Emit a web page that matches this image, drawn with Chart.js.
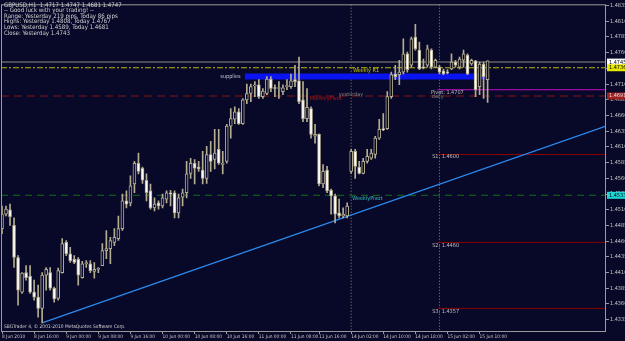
<!DOCTYPE html>
<html>
<head>
<meta charset="utf-8">
<script src="https://cdn.jsdelivr.net/npm/chart.js@4.4.0/dist/chart.umd.min.js"></script>
<style>
html, body { margin: 0; padding: 0; background: #080828; }
#wrap { width: 625px; height: 341px; position: relative; }
</style>
</head>
<body>
<div id="wrap"><canvas id="chart"></canvas></div>
<script>
// GBPUSD H1 bars, left to right
var openP = [
1.4480,1.4503,1.4510,1.4485,1.4434,1.4379,1.4410,1.4404,1.4379,1.4371,
1.4353,1.4406,1.4410,1.4385,1.4369,1.4410,1.4458,1.4440,1.4431,1.4431,
1.4402,1.4424,1.4424,1.4412,1.4415,1.4421,1.4445,1.4448,1.4458,1.4464,
1.4480,1.4524,1.4521,1.4551,1.4584,1.4576,1.4557,1.4540,1.4513,1.4521,
1.4516,1.4527,1.4537,1.4537,1.4505,1.4530,1.4537,1.4568,1.4584,1.4578,
1.4573,1.4560,1.4598,1.4590,1.4606,1.4582,1.4587,1.4643,1.4654,1.4666,
1.4647,1.4685,1.4695,1.4707,1.4709,1.4690,1.4695,1.4718,1.4704,1.4703,
1.4698,1.4706,1.4706,1.4717,1.4715,1.4685,1.4655,1.4671,1.4627,1.4630,
1.4551,1.4573,1.4541,1.4532,1.4505,1.4500,1.4500,1.4571,1.4603,1.4578,
1.4568,1.4587,1.4592,1.4598,1.4624,1.4639,1.4639,1.4690,1.4726,1.4725,
1.4729,1.4758,1.4740,1.4785,1.4764,1.4737,1.4740,1.4764,1.4737,1.4737,
1.4731,1.4729,1.4734,1.4745,1.4737,1.4748,1.4756,1.4742,1.4747,1.4706,
1.4742,1.4717
];
var highP = [
1.4516,1.4516,1.4519,1.4497,1.4437,1.4410,1.4421,1.4421,1.4398,1.4390,
1.4410,1.4418,1.4418,1.4387,1.4417,1.4464,1.4461,1.4450,1.4437,1.4434,
1.4428,1.4429,1.4429,1.4426,1.4418,1.4456,1.4477,1.4466,1.4480,1.4500,
1.4535,1.4540,1.4564,1.4587,1.4600,1.4578,1.4567,1.4551,1.4529,1.4524,
1.4535,1.4540,1.4541,1.4540,1.4535,1.4543,1.4587,1.4592,1.4590,1.4587,
1.4603,1.4611,1.4619,1.4638,1.4638,1.4603,1.4646,1.4671,1.4674,1.4671,
1.4687,1.4710,1.4710,1.4714,1.4717,1.4703,1.4722,1.4722,1.4709,1.4714,
1.4709,1.4717,1.4726,1.4740,1.4753,1.4714,1.4703,1.4674,1.4646,1.4631,
1.4582,1.4579,1.4543,1.4535,1.4527,1.4513,1.4521,1.4606,1.4606,1.4587,
1.4592,1.4606,1.4606,1.4627,1.4654,1.4663,1.4698,1.4729,1.4740,1.4748,
1.4782,1.4761,1.4785,1.4805,1.4777,1.4750,1.4772,1.4766,1.4750,1.4740,
1.4734,1.4733,1.4758,1.4748,1.4753,1.4764,1.4758,1.4750,1.4748,1.4745,
1.4745,1.4747
];
var lowP = [
1.4472,1.4500,1.4485,1.4418,1.4358,1.4377,1.4398,1.4377,1.4366,1.4339,
1.4330,1.4382,1.4382,1.4363,1.4366,1.4409,1.4437,1.4426,1.4424,1.4390,
1.4401,1.4418,1.4410,1.4401,1.4410,1.4421,1.4432,1.4424,1.4453,1.4461,
1.4477,1.4513,1.4516,1.4537,1.4567,1.4552,1.4524,1.4511,1.4508,1.4511,
1.4513,1.4521,1.4516,1.4497,1.4497,1.4516,1.4529,1.4560,1.4551,1.4571,
1.4551,1.4552,1.4571,1.4575,1.4582,1.4567,1.4584,1.4624,1.4647,1.4646,
1.4646,1.4679,1.4682,1.4690,1.4687,1.4687,1.4693,1.4698,1.4690,1.4687,
1.4693,1.4701,1.4703,1.4706,1.4679,1.4650,1.4650,1.4624,1.4616,1.4548,
1.4545,1.4537,1.4503,1.4489,1.4497,1.4497,1.4497,1.4568,1.4560,1.4567,
1.4567,1.4584,1.4590,1.4592,1.4622,1.4636,1.4638,1.4687,1.4717,1.4709,
1.4726,1.4729,1.4737,1.4764,1.4733,1.4734,1.4737,1.4734,1.4736,1.4726,
1.4725,1.4726,1.4733,1.4737,1.4734,1.4737,1.4725,1.4740,1.4690,1.4693,
1.4687,1.4681
];
var closeP = [
1.4503,1.4511,1.4499,1.4434,1.4382,1.4409,1.4402,1.4379,1.4371,1.4353,
1.4406,1.4415,1.4385,1.4368,1.4413,1.4456,1.4440,1.4429,1.4426,1.4406,
1.4424,1.4426,1.4413,1.4415,1.4417,1.4445,1.4448,1.4461,1.4466,1.4480,
1.4524,1.4519,1.4548,1.4584,1.4571,1.4557,1.4537,1.4513,1.4519,1.4516,
1.4529,1.4537,1.4535,1.4505,1.4529,1.4537,1.4567,1.4584,1.4576,1.4575,
1.4560,1.4598,1.4587,1.4600,1.4584,1.4584,1.4643,1.4655,1.4666,1.4647,
1.4685,1.4695,1.4706,1.4709,1.4690,1.4699,1.4718,1.4703,1.4703,1.4704,
1.4704,1.4707,1.4715,1.4714,1.4682,1.4655,1.4673,1.4630,1.4630,1.4551,
1.4571,1.4540,1.4532,1.4503,1.4500,1.4503,1.4516,1.4603,1.4579,1.4568,
1.4587,1.4595,1.4600,1.4624,1.4638,1.4637,1.4690,1.4725,1.4722,1.4729,
1.4758,1.4733,1.4782,1.4766,1.4734,1.4736,1.4766,1.4737,1.4748,1.4729,
1.4726,1.4728,1.4745,1.4740,1.4750,1.4758,1.4726,1.4748,1.4701,1.4742,
1.4722,1.4747
];

// time axis labels (bar index -> text)
var timeIdx = [0, 8, 16, 24, 32, 40, 48, 56, 64, 72, 79, 87, 95, 103, 111, 119];
var timeLabels = ['8 Jun 2010', '8 Jun 16:00', '9 Jun 00:00', '9 Jun 08:00', '9 Jun 16:00',
    '10 Jun 00:00', '10 Jun 08:00', '10 Jun 16:00', '11 Jun 00:00', '11 Jun 08:00',
    '11 Jun 16:00', '14 Jun 02:00', '14 Jun 10:00', '14 Jun 18:00', '15 Jun 02:00', '15 Jun 10:00'];

// price axis labels
var priceTicks = [1.4335, 1.4360, 1.4385, 1.4410, 1.4435, 1.4460, 1.4485, 1.4510, 1.4535, 1.4560,
    1.4585, 1.4610, 1.4635, 1.4660, 1.4685, 1.4710, 1.4735, 1.4760, 1.4785, 1.4810, 1.4835];

// horizontal levels: name, price, first bar
var levelNames = ['Bid', 'Weekly R1', 'MonthlyPivot', 'WeeklyPivot', 'Pivot', 'S1', 'S2', 'S3'];
var levelValues = [1.4745, 1.4736, 1.4691, 1.4533, 1.4701, 1.4598, 1.4458, 1.4353];
var levelStart = [-0.25, -0.25, -0.25, -0.25, 108.5, 108.5, 108.5, 108.5];

// trend line (bar index, price) and supply zone
var trendBars = [10, 150.5];
var trendPrices = [1.4330, 1.4643];
var supplyBars = [60.5, 121.5];
var supplyPrice = [1.4722];

// day separators
var sepBars = [87, 109];

var BG = '#080828';
var CANDLE = '#b4ad90';
var AXIS_TXT = '#c8c8c8';
var FONT = '"Liberation Sans Narrow", "DejaVu Sans Condensed", Arial, sans-serif';

var levelStyle = {
    'Bid': { color: '#4c4c58', width: 2, dash: [] },
    'Weekly R1': { color: '#b8b800', width: 1, dash: [6, 2, 2, 2] },
    'MonthlyPivot': { color: '#8a1414', width: 1, dash: [8, 5] },
    'WeeklyPivot': { color: '#127012', width: 1, dash: [7, 5] },
    'Pivot': { color: '#c010c0', width: 1, dash: [] },
    'S1': { color: '#8a0000', width: 1, dash: [] },
    'S2': { color: '#8a0000', width: 1, dash: [] },
    'S3': { color: '#8a0000', width: 1, dash: [] }
};

var notes = [
    { t: 'supplies', x: 54.4, y: 1.4722, c: '#b8c4d0' },
    { t: 'Weekly R1', x: 87.5, y: 1.4731, c: '#c8c800' },
    { t: 'MonthlyPivot', x: 76.7, y: 1.4687, c: '#b01818' },
    { t: 'yesterday', x: 83.9, y: 1.4693, c: '#7c7c7c' },
    { t: 'Pivot: 1.4707', x: 106.9, y: 1.4696, c: '#b8b8b8' },
    { t: 'daily', x: 107.1, y: 1.4690, c: '#7c7c7c' },
    { t: 'WeeklyPivot', x: 87.3, y: 1.4527, c: '#30c0c0' },
    { t: 'S1: 1.4600', x: 107.2, y: 1.4594, c: '#c0c0c0' },
    { t: 'S2: 1.4460', x: 107.2, y: 1.4453, c: '#c0c0c0' },
    { t: 'S3: 1.4357', x: 107.2, y: 1.4348, c: '#c0c0c0' }
];

var axisMarks = [
    { v: 1.4745, bg: '#ffffff', fg: '#000000' },
    { v: 1.4736, bg: '#e8e800', fg: '#000000' },
    { v: 1.4691, bg: '#a02020', fg: '#e0e0e0' },
    { v: 1.4533, bg: '#20d8d8', fg: '#000000' }
];

var headerLines = [
    'GBPUSD,H1  1.4717 1.4747 1.4681 1.4747',
    '-- Good luck with your trading! --',
    'Range: Yesterday 219 pips, Today 86 pips',
    'Highs: Yesterday 1.4808, Today 1.4767',
    'Lows: Yesterday 1.4589, Today 1.4681',
    'Close: Yesterday 1.4743'
];

function buildDatasets() {
    var sets = [];
    sets.push({
        type: 'bar',
        label: 'body',
        data: openP.map(function (o, i) { return { x: i, y: [o, closeP[i]] }; }),
        backgroundColor: function (ctx) {
            var i = ctx.dataIndex;
            return closeP[i] >= openP[i] ? BG : '#ffffff';
        },
        borderColor: CANDLE,
        borderWidth: 1,
        borderSkipped: false,
        barThickness: 3,
        minBarLength: 1,
        grouped: false,
        order: 0
    });
    sets.push({
        type: 'bar',
        label: 'wick',
        data: lowP.map(function (l, i) { return { x: i, y: [l, highP[i]] }; }),
        backgroundColor: CANDLE,
        borderWidth: 0,
        barThickness: 1,
        grouped: false,
        order: 1
    });
    sets.push({
        type: 'line',
        label: 'supplies',
        data: [{ x: supplyBars[0], y: supplyPrice[0] }, { x: supplyBars[1], y: supplyPrice[0] }],
        borderColor: '#0a14f0',
        borderWidth: 6,
        borderCapStyle: 'butt',
        pointRadius: 0,
        order: 3
    });
    sets.push({
        type: 'line',
        label: 'trend',
        data: [{ x: trendBars[0], y: trendPrices[0] }, { x: trendBars[1], y: trendPrices[1] }],
        borderColor: '#2a8cf0',
        borderWidth: 1.2,
        pointRadius: 0,
        order: 2
    });
    levelNames.forEach(function (n, i) {
        var st = levelStyle[n];
        sets.push({
            type: 'line',
            label: n,
            data: [{ x: levelStart[i], y: levelValues[i] }, { x: 150.5, y: levelValues[i] }],
            borderColor: st.color,
            borderWidth: st.width,
            borderDash: st.dash,
            pointRadius: 0,
            order: 5
        });
    });
    sepBars.forEach(function (b) {
        sets.push({
            type: 'line',
            label: 'sep',
            data: [{ x: b, y: 1.4300 }, { x: b, y: 1.4850 }],
            borderColor: '#8c8c74',
            borderWidth: 1,
            borderDash: [1, 2],
            pointRadius: 0,
            order: 6
        });
    });
    return sets;
}

var decor = {
    id: 'decor',
    beforeDraw: function (chart) {
        var c = chart.ctx;
        c.save();
        c.fillStyle = BG;
        c.fillRect(0, 0, chart.width, chart.height);
        c.restore();
    },
    afterDatasetsDraw: function (chart) {
        var c = chart.ctx, xs = chart.scales.x, ys = chart.scales.y;
        c.save();
        c.font = '5.5px ' + FONT;
        c.textBaseline = 'middle';
        c.textAlign = 'left';
        notes.forEach(function (n) {
            c.fillStyle = n.c;
            c.fillText(n.t, xs.getPixelForValue(n.x), ys.getPixelForValue(n.y));
        });
        c.restore();
    },
    afterDraw: function (chart) {
        var c = chart.ctx, a = chart.chartArea, ys = chart.scales.y;
        c.save();
        c.strokeStyle = '#9a9a9a';
        c.lineWidth = 1;
        c.strokeRect(a.left + 0.5, a.top + 0.5, a.right - a.left - 1, a.bottom - a.top);
        c.font = '5.5px ' + FONT;
        c.textBaseline = 'middle';
        axisMarks.forEach(function (m) {
            var y = ys.getPixelForValue(m.v);
            c.fillStyle = m.bg;
            c.fillRect(a.right + 1, y - 3.5, 18, 7);
            c.fillStyle = m.fg;
            c.fillText(m.v.toFixed(4), a.right + 3, y);
        });
        c.fillStyle = '#d0d0d0';
        c.font = '6.1px ' + FONT;
        headerLines.forEach(function (t, i) {
            c.fillText(t, 4, 5 + i * 5.6);
        });
        c.font = '4.9px ' + FONT;
        c.fillText('SBGTrader 4, \u00a9 2001-2010 MetaQuotes Software Corp.', 4, 327);
        c.restore();
    }
};

var chart = new Chart(document.getElementById('chart'), {
    type: 'bar',
    data: { datasets: buildDatasets() },
    options: {
        responsive: true,
        maintainAspectRatio: false,
        animation: false,
        devicePixelRatio: 1,
        events: [],
        layout: { padding: { left: 1, top: 2, right: 0, bottom: 0 } },
        plugins: { legend: { display: false }, tooltip: { enabled: false } },
        scales: {
            x: {
                type: 'linear',
                position: 'bottom',
                min: -0.25,
                max: 150.5,
                offset: false,
                afterBuildTicks: function (s) {
                    s.ticks = timeIdx.map(function (v) { return { value: v }; });
                },
                afterFit: function (s) { s.height = 10; },
                ticks: {
                    callback: function (v, i) { return timeLabels[i]; },
                    align: 'start',
                    autoSkip: false,
                    maxRotation: 0,
                    padding: 0,
                    color: AXIS_TXT,
                    font: { size: 4.8, family: FONT }
                },
                grid: { offset: false, drawOnChartArea: false, tickLength: 3, color: '#9a9a9a' },
                border: { display: false }
            },
            y: {
                type: 'linear',
                position: 'right',
                min: 1.4317,
                max: 1.4837,
                afterBuildTicks: function (s) {
                    s.ticks = priceTicks.map(function (v) { return { value: v }; });
                },
                afterFit: function (s) { s.width = 19; },
                ticks: {
                    callback: function (v) { return v.toFixed(4); },
                    padding: 1,
                    color: AXIS_TXT,
                    font: { size: 5.5, family: FONT }
                },
                grid: { drawOnChartArea: false, tickLength: 3, color: '#9a9a9a' },
                border: { display: false }
            }
        }
    },
    plugins: [decor]
});
</script>
</body>
</html>
